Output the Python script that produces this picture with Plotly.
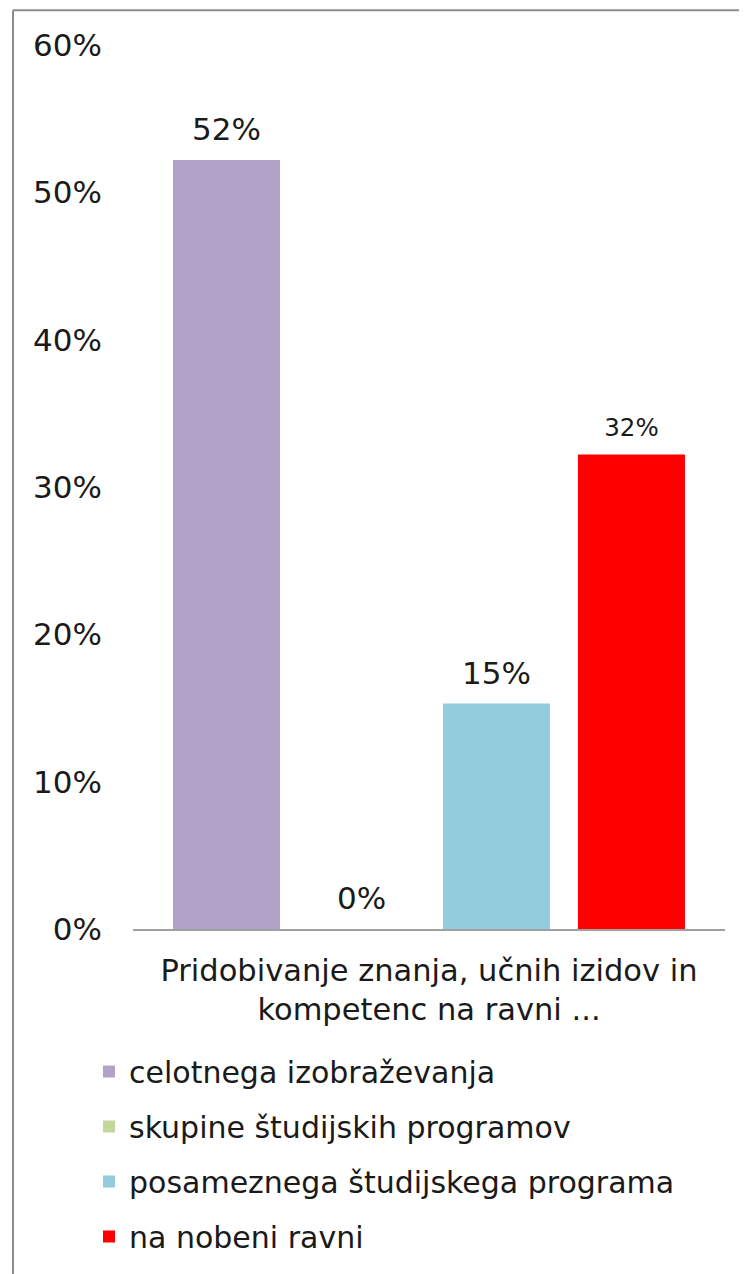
import plotly.graph_objects as go

category = ["Pridobivanje znanja, učnih izidov in<br>kompetenc na ravni ..."]
series_names = ["celotnega izobraževanja", "skupine študijskih programov",
                "posameznega študijskega programa", "na nobeni ravni"]
series_values = [0.522, 0.0, 0.153, 0.322]
series_colors = ["#B3A2C7", "#C3D69B", "#93CDDD", "#FF0000"]
label_sizes = [31, 31, 31, 24.5]
y_ticks = [0, 0.1, 0.2, 0.3, 0.4, 0.5, 0.6]

# page body has an 8px margin; work in target pixel coordinates
OFF = 8
W, H = 747 - OFF, 1274 - OFF
L, R, T, B = 133 - OFF, 22, 45 - OFF, 341
pw, ph = W - L - R, H - T - B

def px(x):
    return (x - OFF - L) / pw

def py(y):
    return (H - B - (y - OFF)) / ph

FONT = "DejaVu Sans"
TXT = "#1a1a1a"
GAP = 0.088

fig = go.Figure()
for i, (name, val, col) in enumerate(zip(series_names, series_values, series_colors)):
    fig.add_trace(go.Bar(
        x=category, y=[val], name=name, marker=dict(color=col, line=dict(width=0)),
        legendgroup=f"g{i}", hoverinfo="skip",
    ))
for i, (name, val, ls) in enumerate(zip(series_names, series_values, label_sizes)):
    fig.add_trace(go.Scatter(
        x=category, y=[val], mode="markers+text", text=[val], texttemplate="%{y:.0%}",
        textposition="top center", textfont=dict(size=ls, color=TXT, family=FONT),
        marker=dict(size=18, opacity=0), showlegend=False, cliponaxis=False,
        hoverinfo="skip",
    ))

fig.update_layout(
    width=W, height=H,
    margin=dict(l=L, r=R, t=T, b=B),
    paper_bgcolor="white", plot_bgcolor="white",
    barmode="group", bargap=GAP, bargroupgap=0.207,
    scattermode="group", scattergap=GAP,
    font=dict(family=FONT, color=TXT),
    showlegend=True,
    legend=dict(
        x=px(89), y=py(1050), xanchor="left", yanchor="top",
        font=dict(size=30, family=FONT, color=TXT),
        tracegroupgap=13, itemwidth=30,
        bgcolor="rgba(0,0,0,0)",
    ),
    xaxis=dict(
        showline=True, linecolor="#A0A0A0", linewidth=2,
        showgrid=False, ticks="", tickfont=dict(size=30.5, family=FONT, color=TXT),
        ticklabelstandoff=13,
    ),
    yaxis=dict(
        range=[0, 0.6], tickvals=y_ticks, tickformat=".0%",
        showgrid=False, zeroline=False, showline=False, ticks="",
        tickfont=dict(size=31, family=FONT, color=TXT),
        ticklabelstandoff=30,
    ),
    shapes=[
        dict(type="line", xref="paper", yref="paper", x0=px(13), x1=px(13), y0=py(10), y1=py(1290),
             line=dict(color="#8C8C8C", width=2)),
        dict(type="line", xref="paper", yref="paper", x0=px(13), x1=px(760), y0=py(10), y1=py(10),
             line=dict(color="#8C8C8C", width=2)),
    ],
)

fig.write_html("out.html")
